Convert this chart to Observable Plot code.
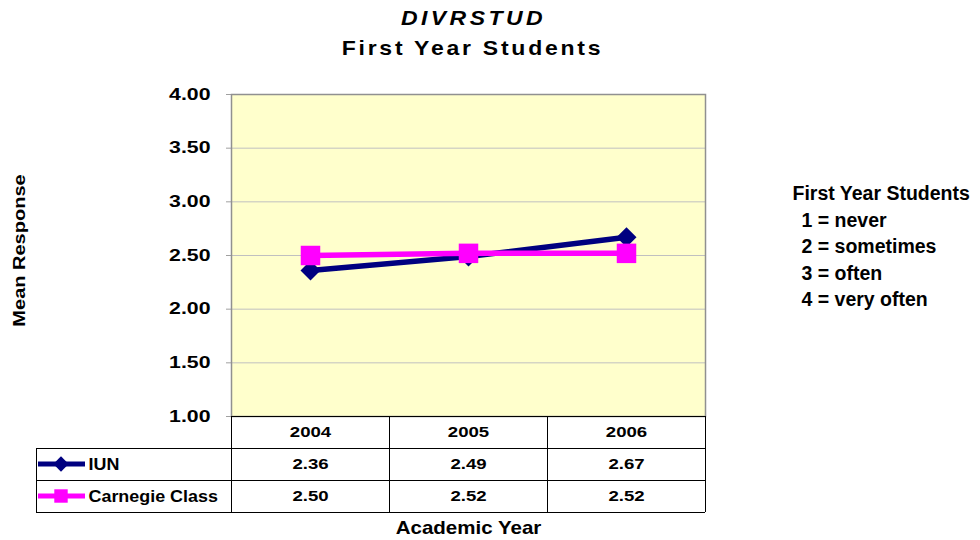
<!DOCTYPE html>
<html><head><meta charset="utf-8">
<script src="https://cdn.jsdelivr.net/npm/d3@7"></script>
<script src="https://cdn.jsdelivr.net/npm/@observablehq/plot@0.6"></script>
<style>
html,body{margin:0;padding:0;background:#fff;}
#chart svg{display:block;font-family:"Liberation Sans",Arial,sans-serif;}
</style></head><body><div id="chart"></div>
<script>
const years = ["2004", "2005", "2006"];
const series = ["IUN", "Carnegie Class"];
const iun = [2.36, 2.49, 2.67];
const carnegie = [2.50, 2.52, 2.52];
const yTicks = [1.0, 1.5, 2.0, 2.5, 3.0, 3.5, 4.0];
const colors = ["#000080", "#FF00FF"];
const title = "DIVRSTUD";
const subtitle = "First Year Students";
const legendTitle = "First Year Students";
const legendLines = ["1 = never", "2 = sometimes", "3 = often", "4 = very often"];
const yLabel = "Mean Response";
const xLabel = "Academic Year";

const data = [
  ...years.map((year, i) => ({series: series[0], year, value: iun[i]})),
  ...years.map((year, i) => ({series: series[1], year, value: carnegie[i]}))
];
const iunData = data.filter(d => d.series === series[0]);
const carData = data.filter(d => d.series === series[1]);
const fmt = d3.format(".2f");
const B = {fontWeight: "bold", fill: "#000", lineAnchor: "middle"};

const plot = Plot.plot({
  width: 980, height: 540,
  marginLeft: 231, marginRight: 275, marginTop: 94, marginBottom: 124,
  style: {fontFamily: '"Liberation Sans", Arial, sans-serif', background: "#fff", overflow: "visible"},
  x: {type: "point", domain: years, padding: 0.5, axis: null},
  y: {domain: [1, 4], axis: null},
  color: {domain: series, range: colors},
  marks: [
    Plot.frame({fill: "#FFFFCC", stroke: null}),
    Plot.gridY(yTicks, {stroke: "#C0C0C0", strokeOpacity: 1, strokeWidth: 1}),
    Plot.axisY(yTicks, {tickFormat: fmt, tickSize: 5, tickPadding: 16, fontSize: 16, fontWeight: "bold", stroke: "#A0A0A0", fill: "#000", label: null}),
    Plot.frame({stroke: "#909090", strokeWidth: 1.5}),
    Plot.line(iunData, {x: "year", y: "value", stroke: "series", strokeWidth: 5.5}),
    Plot.dot(iunData, {x: "year", y: "value", symbol: "diamond2", fill: "series", r: 9, stroke: null}),
    Plot.line(carData, {x: "year", y: "value", stroke: "series", strokeWidth: 5.5}),
    Plot.dot(carData, {x: "year", y: "value", symbol: "square", fill: "series", r: 11, stroke: null}),
    // titles
    Plot.text([title], {text: d => d, frameAnchor: "top", dx: 5, dy: -76, fontSize: 20, fontStyle: "italic", ariaDescription: "t-title", ...B}),
    Plot.text([subtitle], {text: d => d, frameAnchor: "top", dx: 4, dy: -46, fontSize: 20, ariaDescription: "t-subtitle", ...B}),
    // legend text on the right
    Plot.text([legendTitle], {text: d => d, frameAnchor: "top-right", dx: 87, dy: 99, textAnchor: "start", fontSize: 19.5, ariaDescription: "t-legend", ...B}),
    ...legendLines.map((t, i) => Plot.text([t], {text: d => d, frameAnchor: "top-right", dx: 96, dy: 126 + i * 26.5, textAnchor: "start", fontSize: 19.5, ariaDescription: "t-legend", ...B})),
    // axis labels
    Plot.text([yLabel], {text: d => d, frameAnchor: "left", dx: -212, dy: -5, rotate: -90, textAnchor: "middle", fontSize: 16, ariaDescription: "t-ylab", ...B}),
    Plot.text([xLabel], {text: d => d, frameAnchor: "bottom", dy: 112, fontSize: 18, ariaDescription: "t-xlab", ...B}),
    // data table
    Plot.text(years, {x: d => d, text: d => d, frameAnchor: "bottom", dy: 16, fontSize: 15.5, ariaDescription: "t-cell", ...B}),
    Plot.text(iunData, {x: "year", text: d => fmt(d.value), frameAnchor: "bottom", dy: 48, fontSize: 15.5, ariaDescription: "t-cell", ...B}),
    Plot.text(carData, {x: "year", text: d => fmt(d.value), frameAnchor: "bottom", dy: 80, fontSize: 15.5, ariaDescription: "t-cell", ...B}),
    Plot.text([series[0]], {text: d => d, frameAnchor: "bottom-left", dx: -143, dy: 48, textAnchor: "start", fontSize: 16, ariaDescription: "t-row", ...B}),
    Plot.text([series[1]], {text: d => d, frameAnchor: "bottom-left", dx: -143, dy: 80, textAnchor: "start", fontSize: 16, ariaDescription: "t-row", ...B})
  ]
});

document.getElementById("chart").appendChild(plot);

// table grid + legend swatches, positioned from the plot's scales
const svg = d3.select(plot);
const xs = plot.scale("x"), ys = plot.scale("y");
const centers = years.map(y => xs.apply(y));
const half = (centers[1] - centers[0]) / 2;
const colEdges = [centers[0] - half, ...centers.map(c => c + half)];
const yTop = ys.apply(1);
const rowH = 32;
const tableLeft = 36;
const g = svg.append("g").attr("stroke", "#000").attr("stroke-width", 1).attr("shape-rendering", "crispEdges");
g.append("line").attr("x1", colEdges[0]).attr("x2", colEdges[3]).attr("y1", yTop).attr("y2", yTop);
for (let r = 1; r <= 3; r++) {
  g.append("line").attr("x1", tableLeft).attr("x2", colEdges[3]).attr("y1", yTop + r * rowH).attr("y2", yTop + r * rowH);
}
colEdges.forEach(xv => g.append("line").attr("x1", xv).attr("x2", xv).attr("y1", yTop).attr("y2", yTop + 3 * rowH));
g.append("line").attr("x1", tableLeft).attr("x2", tableLeft).attr("y1", yTop + rowH).attr("y2", yTop + 3 * rowH);

const sw = svg.append("g");
series.forEach((s, i) => {
  const cy = yTop + rowH * (i + 1.5);
  sw.append("line").attr("x1", 38).attr("x2", 85).attr("y1", cy).attr("y2", cy).attr("stroke", colors[i]).attr("stroke-width", 5);
  const sym = i === 0 ? d3.symbol(d3.symbolDiamond2, 150) : d3.symbol(d3.symbolSquare, 180);
  sw.append("path").attr("d", sym()).attr("transform", `translate(61,${cy})`).attr("fill", colors[i]);
});

// horizontal stretch + letter spacing to emulate the wide reference rendering
function stretch(sel, s, ls) {
  svg.selectAll(sel).each(function() {
    const t = d3.select(this);
    const tr = t.attr("transform");
    if (tr) t.attr("transform", tr + ` scale(${s},1)`);
    else {
      const x = +t.attr("x") || 0, y = +t.attr("y") || 0;
      t.attr("transform", `translate(${x},${y}) scale(${s},1) translate(${-x},${-y})`);
    }
    if (ls) t.style("letter-spacing", ls + "px");
  });
}
stretch('g[aria-label="y-axis tick label"] text', 1.33, 0);
stretch('g[aria-description="t-title"] text', 1.15, 3);
stretch('g[aria-description="t-subtitle"] text', 1.15, 2.4);
stretch('g[aria-description="t-ylab"] text', 1.25, 0);
stretch('g[aria-description="t-xlab"] text', 1.14, 0);
stretch('g[aria-description="t-cell"] text', 1.2, 0);
stretch('g[aria-description="t-row"] text', 1.12, 0);
</script></body></html>
